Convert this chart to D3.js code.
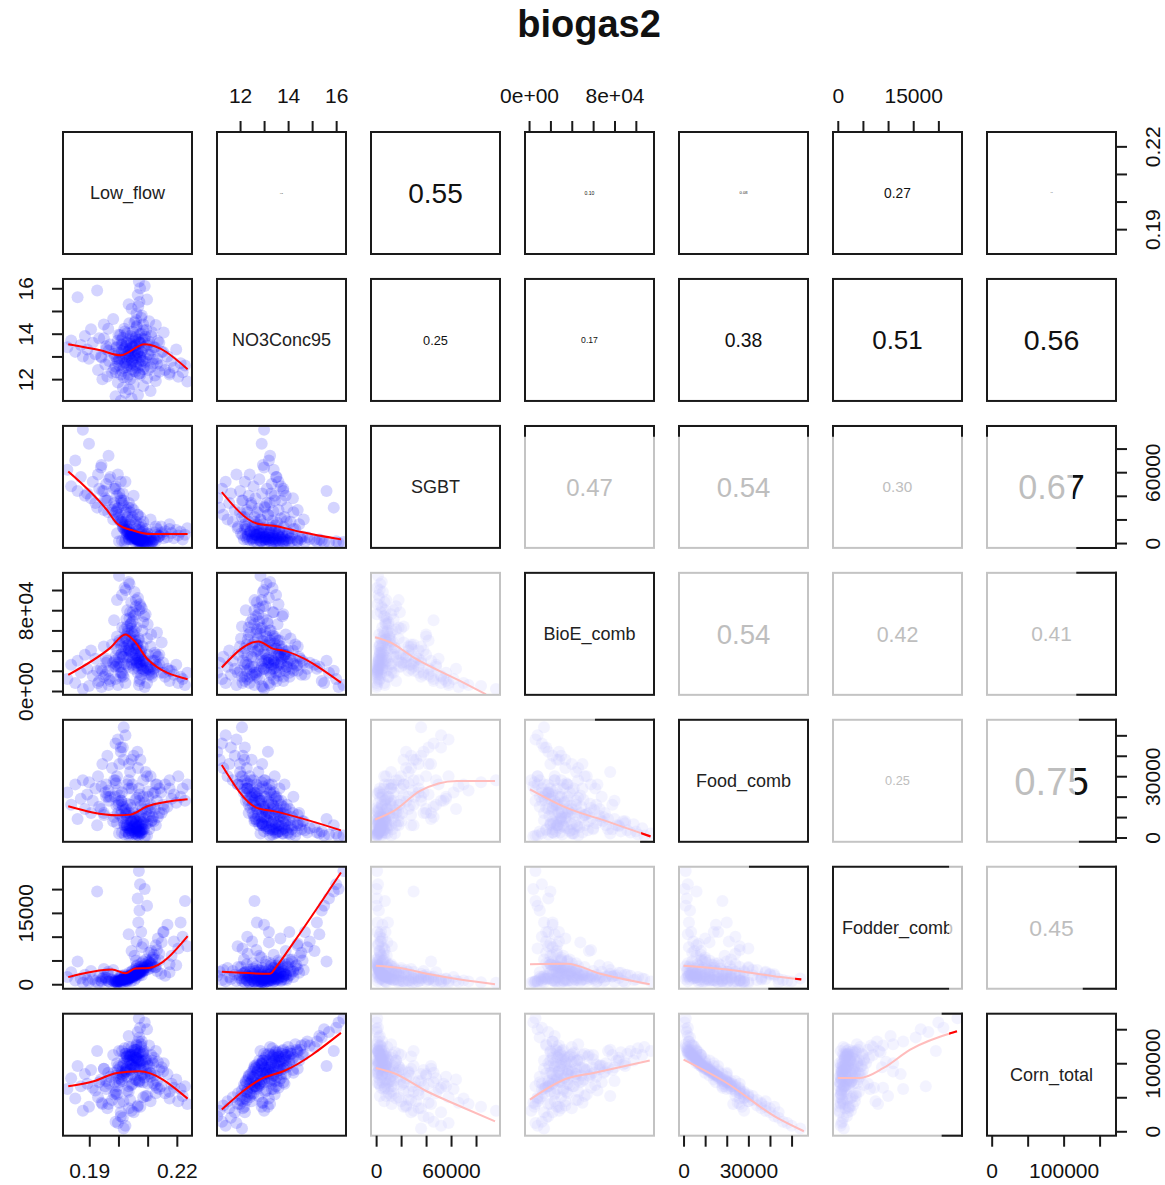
<!DOCTYPE html>
<html>
<head>
<meta charset="utf-8">
<script src="https://cdn.jsdelivr.net/npm/d3@7"></script>
<style>
body { margin: 0; background: #fff; }
text { font-family: "Liberation Sans", Arial, Helvetica, sans-serif; }
</style>
</head>
<body>
<div id="vis" style="width:1165px;height:1185px"></div>
<script>
var varNames = ["Low_flow", "NO3Conc95", "SGBT", "BioE_comb", "Food_comb", "Fodder_comb", "Corn_total"];

// axis range of each variable (data units)
var varRange = [[0.181, 0.2252], [11.04, 16.41], [-4100, 99200], [-3800, 117000],
                [-2100, 57600], [-950, 24700], [-6500, 172800]];

var varTicks = [[0.19, 0.20, 0.21, 0.22], [12, 13, 14, 15, 16], [0, 20000, 40000, 60000, 80000],
                [0, 20000, 40000, 60000, 80000, 100000], [0, 10000, 20000, 30000, 40000, 50000],
                [0, 5000, 10000, 15000, 20000], [0, 50000, 100000, 150000]];

var varTickLabels = [["0.19", "", "", "0.22"], ["12", "", "14", "", "16"], ["0", "", "", "60000", ""],
                     ["0e+00", "", "", "", "8e+04", ""], ["0", "", "", "30000", "", ""],
                     ["0", "", "", "15000", ""], ["0", "", "100000", ""]];

// observations, one array per variable (same order in every array)
var lowFlow = [
  0.2035, 0.2072, 0.1991, 0.2058, 0.2013, 0.2101, 0.2046, 0.1985, 0.2064, 0.2027,
  0.2089, 0.2041, 0.2003, 0.2077, 0.2052, 0.2118, 0.2021, 0.2069, 0.1996, 0.2048,
  0.2083, 0.2031, 0.2009, 0.2061, 0.2094, 0.2038, 0.2016, 0.2074, 0.1988, 0.2055,
  0.2108, 0.2024, 0.2066, 0.2043, 0.2001, 0.2079, 0.2033, 0.2057, 0.2112, 0.2018,
  0.2070, 0.2039, 0.1993, 0.2086, 0.2050, 0.2026, 0.2098, 0.2062, 0.2011, 0.2044,
  0.2075, 0.2030, 0.2105, 0.2053, 0.1998, 0.2068, 0.2036, 0.2081, 0.2015, 0.2059,
  0.2092, 0.2042, 0.2006, 0.2073, 0.2029, 0.2115, 0.2049, 0.2085, 0.2020, 0.2063,
  0.2002, 0.2038, 0.2055, 0.2021, 0.2067, 0.2044, 0.2012, 0.2060, 0.2030, 0.2073, 0.2049, 0.1995, 0.2058, 0.2025, 0.2080, 0.2035,
  0.1825, 0.1838, 0.1852, 0.1860, 0.1871, 0.1878, 0.1885, 0.1893, 0.1899, 0.1906, 0.1912, 0.1921, 0.1927, 0.1934, 0.1942, 0.1950, 0.1958, 0.1966,
  0.2008, 0.2045, 0.1990, 0.2067, 0.2024, 0.2110, 0.2036, 0.2015, 0.2085, 0.2052, 0.1998, 0.2128, 0.2040, 0.2018, 0.2075, 0.2175,
  0.2070, 0.2074, 0.2066, 0.2072, 0.2068, 0.2062, 0.2078, 0.2045, 0.2098, 0.2055, 0.2085, 0.2035, 0.2060, 0.2090,
  0.2125, 0.2132, 0.2140, 0.2146, 0.2153, 0.2160, 0.2168, 0.2175, 0.2182, 0.2190, 0.2198, 0.2205, 0.2213, 0.2220, 0.2228, 0.2236,
  0.1945, 0.2098, 0.2030, 0.1962, 0.2125, 0.2008, 0.2071, 0.1978, 0.2140, 0.2052,
  0.1930, 0.2085, 0.2017, 0.2110, 0.1990, 0.2060, 0.1955, 0.2132, 0.2025, 0.2093,
  0.1968, 0.2045, 0.2118, 0.2003, 0.2076, 0.1940, 0.2035, 0.2102, 0.1985, 0.2065,
  0.2148, 0.2012, 0.2082, 0.1958, 0.2040, 0.2121, 0.1995, 0.2058, 0.1972, 0.2100,
  0.2028, 0.2070, 0.2135, 0.2010, 0.2088, 0.1950, 0.2048, 0.2112, 0.2000, 0.2078,
  0.2155, 0.2022, 0.2095, 0.1965, 0.2062, 0.2128, 0.2037, 0.2105, 0.1982, 0.2080
];
var no3Conc95 = [
  12.20, 12.25, 12.30, 12.32, 12.36, 12.40, 12.43, 12.46, 12.50, 12.52,
  12.55, 12.58, 12.60, 12.63, 12.66, 12.68, 12.71, 12.74, 12.76, 12.79,
  12.82, 12.84, 12.87, 12.90, 12.92, 12.95, 12.97, 13.00, 13.02, 13.05,
  13.07, 13.10, 13.12, 13.15, 13.17, 13.20, 13.23, 13.25, 13.28, 13.30,
  13.33, 13.36, 13.38, 13.40, 13.43, 13.46, 13.48, 13.51, 13.54, 13.56,
  13.59, 13.62, 13.65, 13.67, 13.70, 13.73, 13.76, 13.79, 13.82, 13.85,
  13.88, 13.91, 13.94, 13.98, 14.02, 14.06, 14.10, 14.15, 14.22, 14.35,
  12.85, 13.10, 12.95, 13.35, 13.20, 12.70, 13.50, 13.05, 12.60, 13.60, 13.40, 12.90, 13.80, 13.00, 12.80, 13.25,
  13.40, 13.70, 13.20, 15.60, 13.50, 13.00, 13.90, 13.30, 12.90, 14.20, 13.60, 13.10, 15.90, 13.80, 12.95, 14.40, 13.45, 13.25,
  11.05, 11.15, 11.25, 11.30, 11.40, 11.48, 11.55, 11.62, 11.70, 11.78, 11.85, 11.92, 12.00, 12.08, 12.18, 12.28,
  16.30, 16.00, 15.70, 15.40, 15.20, 14.90, 14.70, 15.10, 15.50, 14.50, 14.40, 15.30, 14.60, 16.10,
  13.40, 12.90, 13.60, 12.60, 13.20, 12.40, 13.00, 12.20, 12.80, 12.50, 13.30, 12.10, 12.70, 12.30, 12.60, 11.90,
  12.00, 12.04, 12.08, 12.12, 12.16, 12.20, 12.24, 12.28, 12.32, 12.36,
  12.40, 12.44, 12.48, 12.52, 12.56, 12.60, 12.64, 12.68, 12.72, 12.76,
  12.80, 12.84, 12.88, 12.92, 12.96, 13.00, 13.04, 13.08, 13.12, 13.16,
  13.20, 13.24, 13.28, 13.32, 13.36, 13.40, 13.44, 13.48, 13.52, 13.56,
  13.60, 13.64, 13.68, 13.72, 13.76, 13.80, 13.85, 13.90, 13.95, 14.00,
  14.05, 14.10, 14.16, 14.22, 14.30, 14.38, 14.46, 14.55, 14.65, 14.80
];
var sgbt = [
  12000, 5200, 26000, 7400, 18000, 2500, 8800, 34000, 3100, 14000,
  1800, 9600, 22000, 4300, 6800, 1200, 16000, 3600, 29000, 7900,
  2200, 11500, 19500, 4900, 1500, 8400, 13000, 2900, 31000, 5600,
  900, 10500, 3300, 7200, 24000, 2000, 9200, 4600, 700, 15000,
  2600, 6300, 27000, 1400, 5300, 11000, 1000, 3900, 17500, 6900,
  2300, 9900, 800, 4400, 21000, 2700, 7600, 1600, 13500, 3500,
  1100, 5800, 18500, 2100, 8200, 600, 4100, 1300, 12000, 2800,
  1500, 3200, 5400, 800, 2500, 6800, 1900, 4100, 7500, 1200, 3700, 8200, 600, 2900, 5000, 4500,
  62000, 48000, 70000, 44000, 56000, 96000, 40000, 42000, 84000, 38000, 52000, 34000, 30000, 46000, 66000, 28000, 36000, 74000,
  38000, 30000, 46000, 24000, 52000, 20000, 34000, 42000, 18000, 28000, 58000, 14000, 26000, 36000, 22000, 12000,
  800, 1500, 600, 2200, 1200, 3400, 900, 2800, 400, 4200, 1800, 3000, 5500, 300,
  9000, 12000, 6000, 14000, 7500, 10000, 5000, 16000, 8500, 4000, 11000, 6500, 9500, 3000, 7000, 12500,
  44000, 8000, 22000, 36000, 3000, 52000, 14000, 28000, 6000, 40000,
  58000, 10000, 32000, 4500, 48000, 18000, 38000, 7000, 26000, 12000,
  54000, 20000, 2000, 42000, 16000, 64000, 30000, 5000, 46000, 24000,
  9000, 34000, 13000, 50000, 19000, 3500, 40000, 15000, 56000, 8000,
  28000, 11000, 5000, 36000, 6000, 44000, 22000, 2500, 30000, 9000,
  4000, 18000, 7000, 26000, 12000, 1500, 16000, 3000, 20000, 5000
];
var bioeComb = [
  42000, 28000, 35000, 51000, 63000, 22000, 58000, 24000, 46000, 71000,
  33000, 66000, 48000, 39000, 74000, 18000, 61000, 52000, 41000, 69000,
  44000, 57000, 36000, 63000, 27000, 72000, 49000, 38000, 30000, 59000,
  21000, 54000, 45000, 67000, 33000, 31000, 60000, 50000, 16000, 43000,
  40000, 55000, 26000, 29000, 47000, 52000, 23000, 42000, 37000, 50000,
  35000, 45000, 19000, 38000, 28000, 32000, 41000, 25000, 34000, 36000,
  20000, 39000, 24000, 29000, 33000, 14000, 31000, 22000, 27000, 25000,
  114000, 106000, 98000, 102000, 92000, 88000, 95000, 84000, 80000, 86000, 78000, 90000, 76000, 100000, 82000, 108000,
  12000, 26000, 8000, 30000, 18000, 2000, 36000, 22000, 5000, 40000, 15000, 32000, 20000, 10000, 4000, 44000, 28000, 6000,
  18000, 28000, 12000, 34000, 8000, 24000, 40000, 16000, 30000, 22000, 6000, 36000, 44000, 14000, 26000, 20000,
  6000, 12000, 18000, 10000, 22000, 28000, 16000, 26000, 8000, 32000, 20000, 24000, 30000, 4000,
  30000, 24000, 36000, 18000, 28000, 14000, 22000, 10000, 20000, 16000, 26000, 8000, 14000, 12000, 6000, 18000,
  20000, 52000, 64000, 30000, 38000, 14000, 80000, 46000, 26000, 56000,
  8000, 68000, 34000, 44000, 24000, 90000, 16000, 58000, 40000, 76000,
  12000, 62000, 30000, 50000, 84000, 22000, 46000, 36000, 70000, 28000,
  48000, 18000, 60000, 32000, 78000, 22000, 54000, 42000, 10000, 66000,
  26000, 50000, 34000, 44000, 74000, 14000, 36000, 56000, 24000, 40000,
  18000, 52000, 30000, 20000, 46000, 26000, 34000, 16000, 28000, 22000
];
var foodComb = [
  24000, 21000, 26500, 18500, 16000, 22500, 14500, 28000, 19500, 12000,
  17000, 10500, 20500, 15500, 9000, 21500, 13500, 11000, 23000, 8000,
  14000, 16500, 18000, 7000, 12500, 6000, 15000, 10000, 20000, 9500,
  13000, 11500, 5500, 8500, 17500, 12000, 4500, 10000, 14500, 7500,
  6500, 3500, 15500, 9000, 5000, 11000, 7000, 4000, 13000, 2500,
  8000, 6000, 10500, 3000, 12000, 5500, 2000, 7500, 9500, 4500,
  6500, 3500, 11000, 2500, 5000, 8500, 1500, 4000, 6000, 3000,
  2000, 4500, 6500, 1500, 3500, 8000, 2500, 5500, 9000, 3000, 4000, 7000, 2000, 3000, 6000, 1000,
  22000, 16000, 26000, 9000, 19000, 28000, 14000, 21000, 27000, 12000, 18000, 24000, 6000, 15000, 25000, 11000, 20000, 23000,
  42000, 38000, 46000, 34000, 50000, 30000, 36000, 44000, 28000, 40000, 48000, 26000, 32000, 54000, 38000, 24000,
  1000, 2000, 1500, 3000, 2500, 4500, 3500, 5000, 1000, 6000, 7000, 2000, 8000, 500,
  14000, 18000, 12000, 22000, 16000, 26000, 15000, 28000, 19000, 21000, 17000, 30000, 20000, 24000, 18000, 26000,
  36000, 30000, 26000, 40000, 22000, 44000, 18000, 34000, 24000, 12000,
  30000, 20000, 38000, 16000, 28000, 8000, 22000, 26000, 14000, 32000,
  18000, 24000, 10000, 36000, 6000, 14000, 28000, 20000, 10000, 42000,
  12000, 22000, 4000, 26000, 16000, 8000, 30000, 2000, 20000, 14000,
  6000, 24000, 10000, 18000, 4000, 12000, 26000, 8000, 16000, 2000,
  14000, 6000, 10000, 20000, 1000, 6000, 12000, 4000, 8000, 2500
];
var fodderComb = [
  1200, 2600, 800, 1900, 400, 3100, 1500, 600, 2200, 900,
  3300, 1300, 500, 2800, 1700, 3800, 1000, 2400, 300, 1400,
  2900, 1100, 700, 2000, 3500, 1600, 900, 2700, 400, 1800,
  4100, 1200, 2300, 1500, 600, 3000, 1300, 2100, 4400, 1000,
  2600, 1700, 500, 3400, 1900, 1100, 3900, 2500, 800, 1800,
  3100, 1400, 4600, 2200, 700, 3300, 1600, 3800, 1000, 2800,
  4200, 2000, 900, 3600, 1800, 5200, 2900, 4800, 1500, 4000,
  600, 1200, 900, 1500, 2000, 700, 1800, 1300, 500, 2400, 1600, 400, 2200, 1000, 1900, 1100,
  1500, 2500, 800, 4800, 1200, 300, 2000, 900, 400, 2800, 1100, 700, 19500, 1600, 500, 3200, 1300, 600,
  1800, 2600, 900, 3000, 600, 3400, 1500, 1100, 2800, 2000, 700, 3600, 1900, 1200, 2400, 4200,
  23800, 21000, 18000, 15500, 13000, 9000, 11000, 7000, 16500, 6000, 8500, 10500, 5000, 20000,
  3500, 2800, 5000, 2200, 11000, 1800, 12500, 2500, 6000, 9000, 4000, 7500, 13000, 10000, 17500, 8000,
  1200, 3600, 700, 2200, 5200, 400, 1800, 900, 6400, 1500,
  300, 2600, 1100, 4400, 600, 2000, 1400, 7200, 800, 3000,
  500, 1700, 5600, 1000, 2400, 800, 1300, 4800, 600, 2100,
  8800, 1200, 2800, 900, 1600, 6200, 700, 3200, 1100, 4000,
  1400, 2600, 9600, 900, 3600, 1500, 2200, 7000, 1200, 4400,
  11000, 2000, 5200, 2600, 3800, 8200, 2400, 6600, 3000, 7800
];
var cornTotal = [
  66000, 72000, 58000, 76000, 80000, 70000, 84000, 54000, 75000, 88000,
  79000, 91000, 72000, 82000, 93000, 71000, 86000, 90000, 66000, 96000,
  84000, 80000, 76000, 98000, 87000, 100000, 82000, 92000, 72000, 94000,
  86000, 90000, 104000, 97000, 78000, 90000, 106000, 94000, 85000, 100000,
  102000, 110000, 82000, 96000, 105000, 92000, 100000, 108000, 88000, 112000,
  100000, 104000, 96000, 110000, 90000, 106000, 114000, 102000, 96000, 108000,
  104000, 112000, 94000, 116000, 110000, 104000, 118000, 114000, 108000, 120000,
  118000, 112000, 104000, 122000, 114000, 98000, 118000, 108000, 94000, 116000, 112000, 100000, 120000, 114000, 104000, 124000,
  62000, 78000, 48000, 96000, 66000, 30000, 84000, 70000, 36000, 90000, 64000, 60000, 118000, 72000, 42000, 92000, 74000, 40000,
  22000, 30000, 14000, 38000, 8000, 44000, 34000, 20000, 50000, 28000, 12000, 56000, 46000, 4000, 36000, 58000,
  166000, 152000, 146000, 138000, 132000, 126000, 128000, 124000, 150000, 120000, 116000, 140000, 112000, 160000,
  82000, 74000, 90000, 66000, 88000, 56000, 84000, 48000, 70000, 64000, 76000, 44000, 62000, 52000, 66000, 40000,
  40000, 52000, 60000, 34000, 68000, 28000, 74000, 46000, 62000, 82000,
  50000, 72000, 44000, 80000, 56000, 96000, 66000, 64000, 88000, 52000,
  70000, 68000, 100000, 42000, 104000, 76000, 58000, 84000, 86000, 36000,
  94000, 74000, 112000, 62000, 90000, 108000, 54000, 116000, 80000, 96000,
  110000, 74000, 102000, 84000, 118000, 92000, 70000, 112000, 96000, 124000,
  100000, 114000, 106000, 86000, 128000, 118000, 104000, 126000, 112000, 132000
];

// printed correlations of the upper panels: [row, col, r]
var corrValues = [
  [0, 1, 0.03], [0, 2, 0.55], [0, 3, 0.10], [0, 4, 0.08], [0, 5, 0.27], [0, 6, 0.02],
  [1, 2, 0.25], [1, 3, 0.17], [1, 4, 0.38], [1, 5, 0.51], [1, 6, 0.56],
  [2, 3, 0.47], [2, 4, 0.54], [2, 5, 0.30], [2, 6, 0.67],
  [3, 4, 0.54], [3, 5, 0.42], [3, 6, 0.41],
  [4, 5, 0.25], [4, 6, 0.75],
  [5, 6, 0.45]
];

// smoother lines of the lower panels: [x value, y value]
var smoothCurves = [
  {row: 1, col: 0, pts: [[0.1828, 13.54], [0.1938, 13.27], [0.2007, 13.05], [0.2090, 13.54], [0.2237, 12.44]]},
  {row: 2, col: 0, pts: [[0.1828, 60600], [0.1961, 27800], [0.1995, 16600], [0.2053, 10400], [0.2110, 7600], [0.2237, 7600]]},
  {row: 2, col: 1, pts: [[11.24, 43200], [12.70, 16600], [13.53, 14300], [14.50, 9500], [16.20, 3100]]},
  {row: 3, col: 0, pts: [[0.1828, 16000], [0.1972, 42700], [0.2024, 56000], [0.2053, 50000], [0.2099, 31700], [0.2237, 11700]]},
  {row: 3, col: 1, pts: [[11.24, 23300], [12.76, 49000], [13.39, 41700], [13.80, 40000], [16.20, 8300]]},
  {row: 3, col: 2, pts: [[-800, 53300], [11200, 48300], [29900, 33300], [67200, 10000], [88000, -3300]]},
  {row: 4, col: 0, pts: [[0.1828, 15300], [0.1995, 10900], [0.2041, 11200], [0.2099, 15300], [0.2237, 18700]]},
  {row: 4, col: 1, pts: [[11.24, 35500], [12.70, 14500], [13.39, 12900], [16.20, 3500]]},
  {row: 4, col: 2, pts: [[-800, 8800], [13900, 12900], [35200, 22800], [64600, 27700], [95200, 27700]]},
  {row: 4, col: 3, pts: [[900, 23600], [35400, 14500], [73000, 7900], [113800, 500]]},
  {row: 5, col: 0, pts: [[0.1828, 1500], [0.1978, 3100], [0.2024, 2300], [0.2058, 3300], [0.2104, 3400], [0.2237, 10100]]},
  {row: 5, col: 1, pts: [[11.24, 2600], [13.25, 2200], [13.53, 3800], [14.08, 7700], [16.20, 23500]]},
  {row: 5, col: 2, pts: [[-200, 3900], [19200, 3400], [40500, 2200], [67200, 1000], [95200, 0]]},
  {row: 5, col: 3, pts: [[900, 4200], [35400, 4300], [66700, 2200], [113000, 0]]},
  {row: 5, col: 4, pts: [[0, 3900], [20200, 3100], [44900, 1500], [54500, 1000]]},
  {row: 6, col: 0, pts: [[0.1828, 66200], [0.1915, 73500], [0.1995, 85700], [0.2070, 88200], [0.2237, 48000]]},
  {row: 6, col: 1, pts: [[11.24, 31900], [12.97, 78400], [13.80, 88200], [16.20, 144600]]},
  {row: 6, col: 2, pts: [[-200, 93100], [13900, 85700], [40500, 58800], [67200, 36800], [95200, 14700]]},
  {row: 6, col: 3, pts: [[900, 46600], [35400, 77500], [60400, 85700], [113000, 104000]]},
  {row: 6, col: 4, pts: [[0, 105400], [18700, 73500], [43400, 19600], [55700, 0]]},
  {row: 6, col: 5, pts: [[0, 78400], [4400, 78400], [9100, 93100], [14400, 120000], [23700, 147000]]}
];

// box edges that stay dark inside the washed-out block: [row, col, side, from, to] (fractions of the edge)
var darkEdges = [
  [2, 3, 'top', 0, 1], [2, 3, 'left', 0, 0.08], [2, 3, 'right', 0, 0.08],
  [2, 4, 'top', 0, 1], [2, 4, 'left', 0, 0.08], [2, 4, 'right', 0, 0.08],
  [2, 5, 'top', 0, 1], [2, 5, 'left', 0, 0.08], [2, 5, 'right', 0, 0.08],
  [2, 6, 'top', 0, 1], [2, 6, 'left', 0, 0.08], [2, 6, 'right', 0, 1], [2, 6, 'bottom', 0.7, 1],
  [3, 6, 'top', 0.7, 1], [3, 6, 'right', 0, 1], [3, 6, 'bottom', 0.7, 1],
  [4, 3, 'top', 0.55, 1], [4, 3, 'right', 0, 1], [4, 3, 'bottom', 0.9, 1],
  [4, 6, 'top', 0.72, 1], [4, 6, 'right', 0, 1], [4, 6, 'bottom', 0.72, 1],
  [5, 4, 'top', 0.55, 1], [5, 4, 'right', 0, 1], [5, 4, 'bottom', 0.7, 1],
  [5, 6, 'top', 0.72, 1], [5, 6, 'right', 0, 1], [5, 6, 'bottom', 0.75, 1],
  [6, 5, 'top', 0.85, 1], [6, 5, 'right', 0, 1], [6, 5, 'bottom', 0.85, 1]
];

// washed-out numbers whose right end stays dark: [row, col, fraction of the box where dark starts]
var darkTextFrom = [[2, 6, 0.67], [4, 6, 0.68]];

var columns = [lowFlow, no3Conc95, sgbt, bioeComb, foodComb, fodderComb, cornTotal];
var nVar = varNames.length;

var width = 1165, height = 1185;
var margin = {left: 63, top: 132};
var cellW = 129, cellH = 122, stepX = 154, stepY = 146.95;

var svg = d3.select('#vis')
    .append('svg')
    .attr('width', width)
    .attr('height', height);

svg.append('rect').attr('width', width).attr('height', height).style('fill', 'white');

svg.append('text').text('biogas2')
    .attr('x', 589).attr('y', 37)
    .attr('text-anchor', 'middle')
    .attr('font-size', 38).attr('font-weight', 'bold')
    .style('fill', '#111');

var x_scales = varRange.map(function(r) { return d3.scaleLinear().domain(r).range([0, cellW]); });
var y_scales = varRange.map(function(r) { return d3.scaleLinear().domain(r).range([cellH, 0]); });

// the picture has most of the lower-right block washed out
function faded(i, j) { return i >= 2 && j >= 2 && i !== j; }

function cellX(j) { return margin.left + j * stepX; }
function cellY(i) { return margin.top + i * stepY; }

var defs = svg.append('defs');
defs.append('clipPath').attr('id', 'cellclip')
    .append('rect').attr('width', cellW).attr('height', cellH);
defs.append('clipPath').attr('id', 'tipclip')
    .append('rect').attr('x', cellW * 0.9).attr('width', cellW * 0.1).attr('height', cellH);

darkTextFrom.forEach(function(d) {
  var grad = defs.append('linearGradient')
      .attr('id', 'darktext' + d[0] + d[1])
      .attr('gradientUnits', 'userSpaceOnUse')
      .attr('x1', 0).attr('x2', cellW).attr('y1', 0).attr('y2', 0);
  grad.append('stop').attr('offset', d[2]).attr('stop-color', '#bebebe');
  grad.append('stop').attr('offset', d[2]).attr('stop-color', '#111');
});

var idx = d3.range(lowFlow.length);

function curveFor(i, j) {
  return smoothCurves.filter(function(c) { return c.row === i && c.col === j; })[0];
}

function smoothPath(i, j) {
  var xs = x_scales[j], ys = y_scales[i];
  return d3.line()
      .x(function(d) { return xs(d[0]); })
      .y(function(d) { return ys(d[1]); })
      .curve(d3.curveMonotoneX)(curveFor(i, j).pts);
}

for (var i = 0; i < nVar; i++) {
  for (var j = 0; j < nVar; j++) {
    var base = svg.append('g')
        .attr('transform', 'translate(' + cellX(j) + ',' + cellY(i) + ')');
    var cell = base.append('g')
        .style('opacity', faded(i, j) ? 0.26 : 1);

    if (i > j) {
      var inner = cell.append('g').attr('clip-path', 'url(#cellclip)');
      var xs = x_scales[j], ys = y_scales[i];
      var xc = columns[j], yc = columns[i];
      inner.selectAll('circle')
          .data(idx)
          .enter()
          .append('circle')
          .attr('cx', function(k) { return xs(xc[k]); })
          .attr('cy', function(k) { return ys(yc[k]); })
          .attr('r', 6)
          .style('fill', 'blue')
          .style('fill-opacity', 0.17);

      inner.append('path')
          .attr('d', smoothPath(i, j))
          .style('fill', 'none')
          .style('stroke', 'red')
          .style('stroke-width', 2);
    } else if (i === j) {
      cell.append('text').text(varNames[i])
          .attr('x', cellW / 2).attr('y', cellH / 2 + 6)
          .attr('text-anchor', 'middle')
          .attr('font-size', 18)
          .style('fill', '#222');
    } else {
      var r = corrValues.filter(function(c) { return c[0] === i && c[1] === j; })[0][2];
      var fs = 51 * r;
      var dark = darkTextFrom.filter(function(d) { return d[0] === i && d[1] === j; })[0];
      var fill = dark ? 'url(#darktext' + i + j + ')' : (faded(i, j) ? '#bebebe' : '#111');
      // numbers are drawn outside the faded group so their colour is set directly
      base.append('text').text(d3.format('.2f')(r))
          .attr('x', cellW / 2).attr('y', cellH / 2 + 0.36 * fs)
          .attr('text-anchor', 'middle')
          .attr('font-size', fs)
          .style('fill', fill);
    }

    cell.append('rect')
        .attr('x', 0).attr('y', 0)
        .attr('width', cellW).attr('height', cellH)
        .style('fill', 'none')
        .style('stroke', '#1a1a1a')
        .style('stroke-width', 2);

    if (i === 5 && j === 5) {
      // right end of this diagonal box is washed out too
      cell.append('rect')
          .attr('x', cellW * 0.9).attr('y', -2)
          .attr('width', cellW * 0.1 + 2).attr('height', cellH + 4)
          .style('fill', 'white').style('opacity', 0.72);
    }
  }
}

// bright red tips of some washed-out smoothers
[[4, 3], [5, 4], [6, 5]].forEach(function(p) {
  svg.append('g')
      .attr('transform', 'translate(' + cellX(p[1]) + ',' + cellY(p[0]) + ')')
      .append('path')
      .attr('clip-path', 'url(#tipclip)')
      .attr('d', smoothPath(p[0], p[1]))
      .style('fill', 'none')
      .style('stroke', 'red')
      .style('stroke-width', 2.2);
});

darkEdges.forEach(function(e) {
  var x0 = cellX(e[1]), y0 = cellY(e[0]);
  var a, b;
  if (e[2] === 'top') { a = [x0 + e[3] * cellW, y0]; b = [x0 + e[4] * cellW, y0]; }
  if (e[2] === 'bottom') { a = [x0 + e[3] * cellW, y0 + cellH]; b = [x0 + e[4] * cellW, y0 + cellH]; }
  if (e[2] === 'left') { a = [x0, y0 + e[3] * cellH]; b = [x0, y0 + e[4] * cellH]; }
  if (e[2] === 'right') { a = [x0 + cellW, y0 + e[3] * cellH]; b = [x0 + cellW, y0 + e[4] * cellH]; }
  svg.append('line')
      .attr('x1', a[0]).attr('y1', a[1]).attr('x2', b[0]).attr('y2', b[1])
      .style('stroke', '#1a1a1a')
      .style('stroke-width', 2)
      .style('stroke-linecap', 'square');
});

function styleAxis(g) {
  g.select('.domain').remove();
  g.selectAll('.tick line').style('stroke', '#1a1a1a').style('stroke-width', 2);
  g.selectAll('text').attr('font-size', 21)
      .attr('font-family', '"Liberation Sans", Arial, Helvetica, sans-serif')
      .style('fill', '#111');
}

function labelFormat(k) {
  return function(d, n) { return varTickLabels[k][n]; };
}

for (var k = 0; k < nVar; k++) {
  if (k % 2 === 1) {
    // top axis above the first row
    svg.append('g')
        .attr('transform', 'translate(' + cellX(k) + ',' + margin.top + ')')
        .call(d3.axisTop(x_scales[k]).tickValues(varTicks[k]).tickFormat(labelFormat(k)).tickSize(11).tickPadding(18))
        .call(styleAxis);
    // left axis
    svg.append('g')
        .attr('transform', 'translate(' + margin.left + ',' + cellY(k) + ')')
        .call(d3.axisLeft(y_scales[k]).tickValues(varTicks[k]).tickFormat(labelFormat(k)).tickSize(11))
        .call(styleAxis)
        .selectAll('text')
        .attr('x', 0).attr('y', 0).attr('dy', 0)
        .attr('text-anchor', 'middle')
        .attr('transform', 'translate(-30,0)rotate(-90)');
  } else {
    // bottom axis under the last row
    svg.append('g')
        .attr('transform', 'translate(' + cellX(k) + ',' + (cellY(nVar - 1) + cellH) + ')')
        .call(d3.axisBottom(x_scales[k]).tickValues(varTicks[k]).tickFormat(labelFormat(k)).tickSize(11).tickPadding(16))
        .call(styleAxis);
    // right axis
    svg.append('g')
        .attr('transform', 'translate(' + (cellX(nVar - 1) + cellW) + ',' + cellY(k) + ')')
        .call(d3.axisRight(y_scales[k]).tickValues(varTicks[k]).tickFormat(labelFormat(k)).tickSize(11))
        .call(styleAxis)
        .selectAll('text')
        .attr('x', 0).attr('y', 0).attr('dy', 0)
        .attr('text-anchor', 'middle')
        .attr('transform', 'translate(44,0)rotate(-90)');
  }
}
</script>
</body>
</html>
